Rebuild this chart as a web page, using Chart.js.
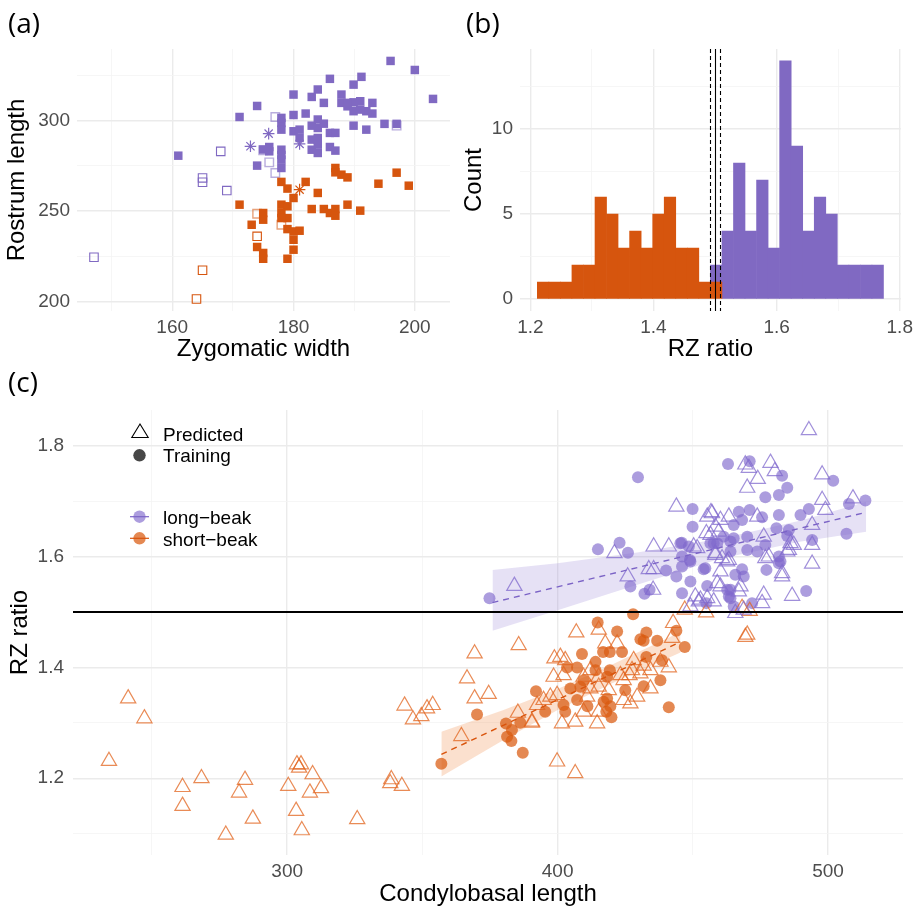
<!DOCTYPE html>
<html>
<head>
<meta charset="utf-8">
<title>RZ ratio figure</title>
<script src="https://cdn.jsdelivr.net/npm/chart.js@4.4.1/dist/chart.umd.min.js"></script>
<style>
  html, body { margin: 0; padding: 0; background: #fff; }
  #fig { position: relative; width: 918px; height: 911px; overflow: hidden; }
  #fig canvas { position: absolute; }
  #overlay { position: absolute; left: 0; top: 0; }
</style>
</head>
<body>
<div id="fig">
  <canvas id="chartA" width="460" height="365" style="left:0px;top:0px"></canvas>
  <canvas id="chartB" width="458" height="365" style="left:460px;top:0px"></canvas>
  <canvas id="chartC" width="918" height="541" style="left:0px;top:370px"></canvas>
  <svg id="overlay" width="918" height="911">
    <g font-family="'Open Sans', sans-serif" font-size="28" fill="#000">
      <text x="8" y="33">(a)</text>
      <text x="466" y="33">(b)</text>
      <text x="8" y="392">(c)</text>
    </g>
    <!-- legend of panel (c) -->
    <g font-family="'Liberation Sans', Arial, sans-serif" font-size="19" fill="#000">
      <polygon points="140,424 131.8,437.5 148.2,437.5" fill="none" stroke="#000" stroke-width="1.1"/>
      <text x="163" y="440.5">Predicted</text>
      <circle cx="139.5" cy="455.3" r="6.2" fill="rgba(0,0,0,0.72)"/>
      <text x="163" y="462">Training</text>
      <circle cx="139.5" cy="516.7" r="6.2" fill="rgba(128,105,205,0.65)"/>
      <line x1="130" y1="516.7" x2="149" y2="516.7" stroke="#7b63c6" stroke-width="1.2"/>
      <text x="163" y="524">long−beak</text>
      <circle cx="139.5" cy="538.3" r="6.2" fill="rgba(218,90,15,0.72)"/>
      <line x1="130" y1="538.3" x2="149" y2="538.3" stroke="#d9540c" stroke-width="1.2"/>
      <text x="163" y="545.7">short−beak</text>
    </g>
  </svg>
</div>
<script>
// ---------- panel (a): zygomatic width vs rostrum length ----------
const longTrainA = [
  [196.0,333.0],[200.0,328.0],[203.0,312.0],[191.2,324.2],[189.9,319.9],[186.0,323.1],[184.0,317.2],
  [183.0,313.1],[180.0,314.4],[185.0,309.8],[187.9,314.4],[187.9,309.8],[188.9,307.9],[189.9,310.1],
  [189.9,305.2],[191.0,310.7],[193.0,309.8],[192.0,305.2],[193.0,303.9],[174.0,308.1],[171.1,302.0],
  [180.0,303.1],[182.0,303.9],[184.0,300.6],[183.0,297.2],[185.0,298.3],[184.0,295.9],[178.0,298.7],
  [178.0,295.0],[178.0,301.5],[180.0,294.1],[181.0,295.0],[181.0,290.4],[186.0,293.2],[186.9,293.2],
  [189.9,297.2],[192.0,295.0],[195.0,298.2],[197.0,298.2],[161.0,280.6],[174.0,275.1],[175.0,284.0],
  [176.0,285.4],[176.0,283.0],[178.0,283.9],[178.0,278.4],[178.0,273.8],[178.0,281.0],[183.0,289.5],
  [184.0,289.5],[183.0,283.9],[184.0,282.1],[184.0,286.7],[186.0,285.4],[186.9,283.4],[188.9,309.8],
  [191.0,306.1],[184.0,290.4]
];
const shortTrainA = [
  [186.9,273.8],[186.9,271.4],[187.9,270.1],[188.9,268.6],[197.0,271.2],[194.0,265.1],[199.0,264.0],
  [182.0,266.1],[178.0,266.1],[179.0,262.4],[180.0,257.2],[184.0,260.0],[171.1,253.5],[178.0,253.5],
  [179.0,252.6],[178.0,248.9],[179.0,246.1],[178.0,246.1],[175.0,248.9],[175.0,245.2],[173.1,242.4],
  [183.0,251.1],[185.0,251.1],[186.0,248.9],[186.9,251.1],[186.9,247.4],[188.9,253.5],[191.0,250.2],
  [179.0,240.0],[180.0,238.7],[181.0,239.1],[180.0,234.1],[180.0,228.6],[174.0,230.1],[175.0,226.8],
  [175.0,223.6],[179.0,223.6]
];
const longPredDarkA = [[168.0,283.0],[165.0,268.3],[165.0,265.9],[169.0,261.3],[147.1,224.4]];
const longPredLightA = [[177.0,302.0],[176.0,276.9],[177.0,271.0],[175.0,283.6],[197.0,297.2]];
const shortPredA = [[174.0,236.0],[165.0,217.2],[164.0,201.3]];
const shortPredLightA = [[174.0,248.5],[178.0,242.4]];
const longStarA = [[172.9,285.8],[175.9,292.8],[181.0,287.1]];
const shortStarA = [[181.0,261.8]];

// ---------- panel (b): histogram of RZ ratio ----------
const binCenters = [1.2207, 1.2394, 1.2581, 1.2769, 1.2956, 1.3144, 1.3331, 1.3519, 1.3706, 1.3894,
                    1.4081, 1.4268, 1.4456, 1.4643, 1.4831, 1.5018, 1.5206, 1.5393, 1.5580, 1.5768,
                    1.5955, 1.6143, 1.6330, 1.6518, 1.6705, 1.6892, 1.7080, 1.7267, 1.7455, 1.7642];
const shortCounts = [1, 1, 1, 2, 2, 6, 5, 3, 4, 3, 5, 6, 3, 3, 1, 1, 0, 0, 0, 0, 0, 0, 0, 0, 0, 0, 0, 0, 0, 0];
const longCounts  = [0, 0, 0, 0, 0, 0, 0, 0, 0, 0, 0, 0, 0, 0, 0, 1, 4, 8, 4, 7, 3, 14, 9, 4, 6, 5, 2, 2, 2, 2];
const cutValues = [1.4916, 1.5, 1.5077];
const cutDashed = [true, false, true];

// ---------- panel (c): condylobasal length vs RZ ratio ----------
const trainLong = [
  [374.8,1.525],[429.7,1.743],[463.0,1.767],[471.0,1.772],[483.0,1.746],[484.9,1.724],[476.8,1.707],
  [481.8,1.711],[501.9,1.737],[507.7,1.695],[513.8,1.701],[506.8,1.641],[491.9,1.538],[449.9,1.686],
  [449.9,1.654],[414.9,1.613],[422.9,1.625],[426.0,1.607],[426.9,1.546],[432.1,1.533],[434.0,1.540],
  [440.1,1.575],[443.9,1.564],[449.1,1.555],[445.9,1.625],[448.5,1.618],[446.0,1.600],[449.1,1.591],
  [446.0,1.582],[446.0,1.534],[454.0,1.577],[455.3,1.547],[455.0,1.516],[456.5,1.624],[459.0,1.624],
  [461.4,1.636],[463.9,1.627],[465.1,1.633],[467.0,1.681],[468.2,1.666],[471.0,1.684],[465.1,1.657],
  [470.1,1.636],[470.1,1.612],[473.8,1.609],[476.8,1.621],[475.6,1.671],[481.8,1.675],[480.9,1.651],
  [485.5,1.648],[484.9,1.637],[489.8,1.675],[492.9,1.686],[494.1,1.630],[481.8,1.600],[481.8,1.588],
  [477.2,1.576],[468.2,1.577],[468.8,1.564],[465.7,1.567],[463.9,1.540],[463.3,1.528],[465.1,1.510],
  [471.9,1.516],[463.9,1.609],[457.7,1.624],[445.4,1.624],[454.6,1.579],[462.7,1.540],[463.9,1.525],
  [482.4,1.591],[448.9,1.594]
];
const trainShort = [
  [357.0,1.226],[370.2,1.315],[380.9,1.299],[386.2,1.300],[383.1,1.287],[381.3,1.275],[382.9,1.267],
  [387.1,1.246],[392.0,1.357],[395.4,1.320],[427.9,1.496],[414.8,1.481],[422.0,1.465],[443.9,1.466],
  [447.0,1.437],[430.6,1.451],[432.8,1.463],[436.8,1.448],[431.8,1.448],[409.0,1.424],[416.8,1.428],
  [419.3,1.428],[423.8,1.428],[414.0,1.410],[432.8,1.419],[438.6,1.413],[403.5,1.400],[407.2,1.400],
  [414.0,1.395],[419.3,1.395],[418.3,1.383],[438.0,1.377],[431.8,1.366],[409.6,1.377],[408.4,1.365],
  [404.7,1.362],[425.0,1.359],[418.3,1.344],[417.0,1.338],[419.5,1.330],[407.2,1.341],[402.2,1.332],
  [402.8,1.320],[418.0,1.320],[419.9,1.310],[441.1,1.328],[411.0,1.330]
];
const predLong = [
  [492.9,1.828],[469.4,1.766],[470.7,1.760],[478.7,1.769],[480.3,1.754],[474.0,1.740],[470.1,1.724],
  [497.8,1.748],[497.8,1.702],[499.0,1.684],[509.2,1.705],[494.1,1.657],[494.1,1.621],[494.1,1.587],
  [486.7,1.529],[487.3,1.621],[484.9,1.609],[483.0,1.570],[483.0,1.564],[476.2,1.636],[478.1,1.600],
  [473.8,1.672],[463.3,1.672],[459.6,1.645],[456.5,1.639],[457.1,1.678],[460.8,1.597],[460.2,1.573],
  [458.3,1.606],[460.2,1.546],[467.6,1.546],[467.0,1.537],[476.2,1.531],[475.6,1.516],[468.8,1.504],
  [465.7,1.498],[450.9,1.528],[452.2,1.519],[455.3,1.525],[459.0,1.552],[462.7,1.591],[435.5,1.618],
  [441.1,1.618],[421.0,1.606],[425.9,1.564],[433.7,1.577],[435.5,1.577],[435.3,1.540],[443.9,1.690],
  [456.7,1.680],[384.0,1.547],[450.3,1.618],[485.5,1.612],[460.2,1.666],[455.0,1.642],[458.3,1.654],
  [458.3,1.603],[463.3,1.594],[452.8,1.522],[457.7,1.519],[476.8,1.597],[486.1,1.624],[455.3,1.672],
  [451.6,1.615],[449.1,1.510]
];
const predShort = [
  [241.2,1.344],[247.2,1.308],[234.1,1.231],[261.3,1.184],[268.3,1.200],[261.3,1.150],[284.4,1.197],
  [282.2,1.174],[287.3,1.127],[277.3,1.098],[300.4,1.186],[303.6,1.225],[305.1,1.225],[304.4,1.219],
  [309.4,1.207],[308.4,1.174],[312.5,1.182],[303.3,1.141],[305.4,1.106],[325.9,1.126],[338.5,1.198],
  [338.1,1.191],[342.4,1.186],[343.4,1.331],[346.5,1.306],[349.6,1.312],[351.7,1.326],[353.8,1.332],
  [364.4,1.276],[366.5,1.380],[369.3,1.425],[369.3,1.344],[385.6,1.440],[374.5,1.352],[385.3,1.318],
  [390.5,1.300],[406.9,1.463],[415.2,1.468],[442.7,1.480],[447.0,1.504],[454.9,1.499],[442.3,1.453],
  [417.6,1.443],[422.0,1.443],[398.8,1.416],[401.0,1.419],[402.8,1.413],[398.5,1.383],[402.2,1.386],
  [428.1,1.413],[431.8,1.403],[427.5,1.395],[430.6,1.389],[434.3,1.395],[441.1,1.400],[438.0,1.410],
  [412.1,1.395],[415.2,1.383],[409.6,1.383],[423.2,1.386],[426.6,1.386],[397.3,1.347],[399.8,1.350],
  [394.8,1.341],[392.4,1.332],[412.1,1.362],[415.2,1.365],[410.9,1.347],[418.9,1.359],[424.4,1.341],
  [426.9,1.335],[434.3,1.362],[424.4,1.377],[409.6,1.320],[414.6,1.299],[406.5,1.302],[401.6,1.299],
  [390.5,1.302],[415.2,1.320],[399.8,1.230],[406.5,1.209],[429.4,1.347],[469.4,1.455],[468.2,1.507],
  [471.0,1.502],[470.1,1.459]
];
// fitted lines and confidence bands
const fitLongX = [375.9, 514.1];
const fitLongY = [1.517, 1.680];
const fitShortX = [357.0, 445.4];
const fitShortY = [1.243, 1.446];
const bandLongX  = [375.9, 400, 430, 460, 490, 514.1];
const bandLongHi = [1.576, 1.588, 1.608, 1.632, 1.665, 1.699];
const bandLongLo = [1.466, 1.503, 1.550, 1.596, 1.627, 1.645];
const bandShortX  = [357.0, 380, 400, 420, 445.4];
const bandShortHi = [1.284, 1.323, 1.361, 1.405, 1.464];
const bandShortLo = [1.203, 1.269, 1.323, 1.371, 1.427];
const rzCutoff = 1.5;

// ---------- common styling ----------
const FONT = "'Liberation Sans', Arial, sans-serif";
const PURPLE = '#8069c2';
const ORANGE = '#d6550e';
Chart.defaults.font.family = FONT;

function pairs(list) { return list.map(p => ({ x: p[0], y: p[1] })); }
function zip(xs, ys) { return xs.map((x, i) => ({ x: x, y: ys[i] })); }

function axis(cfg) {
  const major = cfg.major;
  return {
    type: 'linear',
    min: cfg.min,
    max: cfg.max,
    offset: false,
    border: { display: false },
    grid: {
      offset: false,
      drawTicks: false,
      color: ctx => (ctx.tick && major(ctx.tick.value)) ? '#ebebeb' : '#f4f4f4',
      lineWidth: ctx => (ctx.tick && major(ctx.tick.value)) ? 1.4 : 0.8
    },
    ticks: {
      stepSize: cfg.step,
      includeBounds: false,
      autoSkip: false,
      maxRotation: 0,
      padding: cfg.tickPad,
      color: '#4d4d4d',
      font: { family: FONT, size: 19 },
      callback: v => major(v) ? cfg.fmt(v) : ''
    },
    title: {
      display: true,
      text: cfg.title,
      color: '#000',
      font: { family: FONT, size: 24 },
      padding: cfg.titlePad
    },
    afterFit: function(scale) {
      if (cfg.horizontal) scale.height = cfg.size; else scale.width = cfg.size;
    }
  };
}

const evenTenth = v => Math.abs(v * 5 - Math.round(v * 5)) < 1e-6;
const baseOptions = {
  responsive: false,
  animation: false,
  devicePixelRatio: 1,
  events: [],
  plugins: { legend: { display: false }, tooltip: { enabled: false } }
};

// ==================== (a) scatter ====================
new Chart(document.getElementById('chartA'), {
  type: 'scatter',
  data: {
    datasets: [
      { data: pairs(longStarA), pointStyle: 'star', pointRadius: 5.8, borderColor: PURPLE, borderWidth: 1.2, order: 1 },
      { data: pairs(shortStarA), pointStyle: 'star', pointRadius: 5.8, borderColor: ORANGE, borderWidth: 1.2, order: 1 },
      { data: pairs(longTrainA), pointStyle: 'rect', pointRadius: 6, backgroundColor: PURPLE, borderWidth: 0, order: 2 },
      { data: pairs(shortTrainA), pointStyle: 'rect', pointRadius: 6, backgroundColor: ORANGE, borderWidth: 0, order: 2 },
      { data: pairs(longPredDarkA), pointStyle: 'rect', pointRadius: 6, backgroundColor: 'rgba(0,0,0,0)', borderColor: PURPLE, borderWidth: 1.1, order: 3 },
      { data: pairs(longPredLightA), pointStyle: 'rect', pointRadius: 6, backgroundColor: 'rgba(0,0,0,0)', borderColor: 'rgba(128,105,194,0.55)', borderWidth: 1.4, order: 3 },
      { data: pairs(shortPredA), pointStyle: 'rect', pointRadius: 6, backgroundColor: 'rgba(0,0,0,0)', borderColor: ORANGE, borderWidth: 1.1, order: 3 },
      { data: pairs(shortPredLightA), pointStyle: 'rect', pointRadius: 6, backgroundColor: 'rgba(0,0,0,0)', borderColor: 'rgba(214,85,14,0.55)', borderWidth: 1.4, order: 3 }
    ]
  },
  options: Object.assign({}, baseOptions, {
    layout: { padding: { top: 49, right: 10, bottom: 0, left: 0 } },
    scales: {
      x: axis({ min: 144.3, max: 205.8, step: 10, major: v => v % 20 === 0, fmt: v => String(v),
                title: 'Zygomatic width', horizontal: true, size: 54, tickPad: 5, titlePad: { top: 0, bottom: 1 } }),
      y: axis({ min: 194.7, max: 339.6, step: 25, major: v => v % 50 === 0, fmt: v => String(v),
                title: 'Rostrum length', horizontal: false, size: 77, tickPad: 7, titlePad: { top: 3, bottom: 0 } })
    }
  })
});

// ==================== (b) histogram ====================
const cutLinesPlugin = {
  id: 'cutLines',
  afterDatasetsDraw(chart) {
    const { ctx, chartArea, scales } = chart;
    ctx.save();
    ctx.strokeStyle = '#000';
    ctx.lineWidth = 1.1;
    cutValues.forEach((v, i) => {
      const px = Math.round(scales.x.getPixelForValue(v)) + 0.5;
      ctx.setLineDash(cutDashed[i] ? [4, 3] : []);
      ctx.beginPath();
      ctx.moveTo(px, chartArea.top);
      ctx.lineTo(px, chartArea.bottom);
      ctx.stroke();
    });
    ctx.restore();
  }
};

new Chart(document.getElementById('chartB'), {
  type: 'bar',
  data: {
    datasets: [
      { data: binCenters.map((c, i) => ({ x: c, y: shortCounts[i] || null })), backgroundColor: ORANGE,
        borderWidth: 0, barPercentage: 1, categoryPercentage: 1 },
      { data: binCenters.map((c, i) => ({ x: c, y: longCounts[i] || null })), backgroundColor: PURPLE,
        borderWidth: 0, barPercentage: 1, categoryPercentage: 1 }
    ]
  },
  options: Object.assign({}, baseOptions, {
    layout: { padding: { top: 49, right: 15, bottom: 0, left: 0 } },
    scales: {
      x: Object.assign(axis({ min: 1.1832, max: 1.8017, step: 0.1, major: evenTenth, fmt: v => v.toFixed(1),
                title: 'RZ ratio', horizontal: true, size: 54, tickPad: 5, titlePad: { top: 0, bottom: 1 } }), { stacked: true }),
      y: Object.assign(axis({ min: -0.7, max: 14.7, step: 2.5, major: v => v % 5 === 0, fmt: v => String(v),
                title: 'Count', horizontal: false, size: 60, tickPad: 7, titlePad: { top: 0, bottom: 0 } }), { stacked: true })
    }
  }),
  plugins: [cutLinesPlugin]
});

// ==================== (c) RZ ratio vs condylobasal length ====================
const cutoffPlugin = {
  id: 'cutoff',
  afterDatasetsDraw(chart) {
    const { ctx, chartArea, scales } = chart;
    const py = scales.y.getPixelForValue(rzCutoff);
    ctx.save();
    ctx.strokeStyle = '#000';
    ctx.lineWidth = 2;
    ctx.beginPath();
    ctx.moveTo(chartArea.left, py);
    ctx.lineTo(chartArea.right, py);
    ctx.stroke();
    ctx.restore();
  }
};

new Chart(document.getElementById('chartC'), {
  type: 'scatter',
  data: {
    datasets: [
      // confidence bands (upper filled down to the lower line)
      { type: 'line', data: zip(bandLongX, bandLongHi), fill: '+1', backgroundColor: 'rgba(128,105,205,0.2)',
        borderWidth: 0, pointRadius: 0, showLine: true, tension: 0, order: 30 },
      { type: 'line', data: zip(bandLongX, bandLongLo), fill: false, borderWidth: 0, pointRadius: 0, showLine: true, order: 31 },
      { type: 'line', data: zip(bandShortX, bandShortHi), fill: '+1', backgroundColor: 'rgba(240,130,60,0.25)',
        borderWidth: 0, pointRadius: 0, showLine: true, tension: 0, order: 30 },
      { type: 'line', data: zip(bandShortX, bandShortLo), fill: false, borderWidth: 0, pointRadius: 0, showLine: true, order: 31 },
      // training circles
      { data: pairs(trainLong), pointStyle: 'circle', pointRadius: 6, backgroundColor: 'rgba(128,105,205,0.65)', borderWidth: 0, order: 20 },
      { data: pairs(trainShort), pointStyle: 'circle', pointRadius: 6, backgroundColor: 'rgba(218,90,15,0.72)', borderWidth: 0, order: 20 },
      // predicted triangles
      { data: pairs(predLong), pointStyle: 'triangle', pointRadius: 8.8, backgroundColor: 'rgba(0,0,0,0)',
        borderColor: 'rgba(128,105,205,0.75)', borderWidth: 1.2, order: 10 },
      { data: pairs(predShort), pointStyle: 'triangle', pointRadius: 8.8, backgroundColor: 'rgba(0,0,0,0)',
        borderColor: 'rgba(225,100,30,0.75)', borderWidth: 1.2, order: 10 },
      // fitted lines
      { type: 'line', data: zip(fitLongX, fitLongY), borderColor: '#7b63c6', borderWidth: 1.4, borderDash: [6, 5],
        pointRadius: 0, fill: false, showLine: true, order: 1 },
      { type: 'line', data: zip(fitShortX, fitShortY), borderColor: '#d9540c', borderWidth: 1.4, borderDash: [6, 5],
        pointRadius: 0, fill: false, showLine: true, order: 1 }
    ]
  },
  options: Object.assign({}, baseOptions, {
    layout: { padding: { top: 40, right: 15, bottom: 0, left: 0 } },
    scales: {
      x: axis({ min: 220.8, max: 527.7, step: 50, major: v => v % 100 === 0, fmt: v => String(v),
                title: 'Condylobasal length', horizontal: true, size: 56, tickPad: 5, titlePad: { top: 0, bottom: 2 } }),
      y: axis({ min: 1.0615, max: 1.8645, step: 0.1, major: evenTenth, fmt: v => v.toFixed(1),
                title: 'RZ ratio', horizontal: false, size: 73, tickPad: 9, titlePad: { top: 6, bottom: 0 } })
    }
  }),
  plugins: [cutoffPlugin]
});
</script>
</body>
</html>
